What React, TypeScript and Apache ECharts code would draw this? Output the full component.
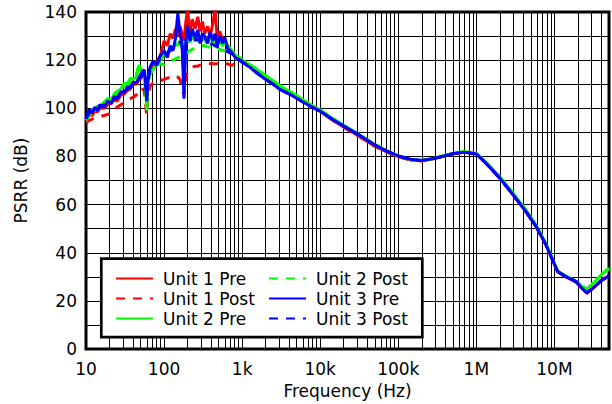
import { useEffect, useRef } from 'react';
import * as echarts from 'echarts';

// Frequencies (Hz)
const lowFreq = [10, 11, 12, 13, 14, 15, 17, 19, 21, 23, 25, 28, 31, 34, 37, 40, 44, 48, 52, 56, 59, 60, 62, 66, 72, 80, 90, 100, 110, 120, 130, 140, 150, 160, 170, 180, 190, 200, 215, 230, 250, 270, 290, 310, 330, 360, 390, 420, 450, 480, 520, 560, 600, 650, 700, 760, 820, 900, 1000];
const highFreq = [1200, 1500, 2000, 2500, 3000, 4000, 5000, 6000, 8000, 1e4, 1.5e4, 2e4, 3e4, 5e4, 7e4, 1e5, 1.5e5, 2e5, 3e5, 5e5, 7e5, 1e6, 1.3e6, 2e6, 3e6, 4.3e6, 5.8e6, 7.8e6, 9.4e6, 1.1e7, 1.4e7, 1.9e7, 2.25e7, 2.6e7, 3.3e7, 4e7, 5e7];

// PSRR (dB), low-frequency part
const unit1PreLow = [95, 97.5, 97, 99, 98.5, 100, 100, 101.5, 102, 103.5, 103, 105.5, 106, 107.5, 108, 110, 110, 112, 113, 114, 110, 106, 112, 116, 118, 119, 122, 128, 126, 131, 129, 133, 130, 134, 131, 128, 136, 141, 131, 137, 133, 138, 132, 136, 131, 134, 130, 135, 141, 129, 132, 128, 128, 126, 124, 123, 121.5, 120.5, 119.5];
const unit1PostLow = [94, 95, 95.5, 96, 96.5, 96.5, 97, 97.5, 98, 99.5, 100.5, 101.5, 102.5, 103.5, 104, 104.5, 105.5, 107, 108.5, 107, 99, 97.5, 104, 109, 110.5, 111, 111.5, 112, 112.5, 113, 113, 113.5, 113, 112, 108, 105.5, 113, 115, 116, 117, 117.5, 117.5, 118, 118.5, 118.5, 118.5, 118.5, 118.5, 118.5, 118.5, 118.5, 118.5, 118.5, 118.5, 118, 118, 118.5, 119, 119];
const unit2PreLow = [95.5, 98, 99.5, 99, 101, 100.5, 102.5, 104, 103.5, 106, 107, 108, 110.5, 110, 112.5, 112, 113, 118, 115, 113, 104, 99, 110, 114, 116, 118, 120, 122.5, 123, 125.5, 124, 127, 126, 128, 125, 122, 127, 129, 127.5, 130, 128, 129, 127, 130, 128.5, 127, 129.5, 128, 126.5, 128, 127, 126, 127, 126, 125, 123.5, 122, 121.5, 120];
const unit2PostLow = [95, 97, 98.5, 99.5, 100, 101, 102, 103, 104, 105, 106, 107.5, 108.5, 110, 111, 113, 114, 118.5, 115, 115, 106, 101, 111, 116, 117.5, 118, 118.5, 118, 119, 119.5, 120, 120.5, 121, 121.5, 122, 122, 122.5, 123, 124, 124.5, 125, 125.5, 126, 126, 126, 125.5, 125.5, 125, 125, 124.5, 124.5, 124, 124, 123.5, 123, 122.5, 121.5, 121, 120];
const unit3PreLow = [96, 99.5, 98, 100.5, 99, 101.5, 100.5, 103, 102, 105, 104, 107, 106.5, 109, 108.5, 111, 110.5, 113, 115, 116, 108, 103, 112, 117, 119.5, 118, 122, 124, 121, 126, 124, 129, 139.5, 131, 127, 104, 128, 134, 128, 133, 129, 132.5, 127, 131, 130, 127, 132, 128, 131, 126, 130, 127, 129.5, 125, 124, 122.5, 121, 120.5, 119];
const unit3PostLow = [95.5, 98, 98.5, 99.5, 100, 100.5, 101.5, 102, 102.5, 104, 104.5, 106, 107, 108, 109, 110, 111, 112, 113.5, 114, 107, 104, 111, 116, 118, 118, 121, 122, 123, 124, 124.5, 126, 127, 127.5, 126, 112, 126, 128, 128, 128.5, 128.5, 128.5, 128, 128, 127.5, 127, 127, 126.5, 126, 125.5, 125, 124.5, 124, 123.5, 123, 122.5, 121.5, 120.5, 119.5];

// PSRR (dB), high-frequency part (Pre and Post coincide)
const unit1High = [118, 116, 112.8, 110.7, 108.8, 106.6, 104.6, 103, 100.6, 98.8, 94.7, 92.2, 88.8, 84.3, 82, 79.9, 78.4, 78.2, 79.3, 81.1, 81.8, 81.1, 77.5, 71, 63.8, 57.2, 51, 43.3, 37.2, 32.1, 30, 27.9, 25.3, 23.3, 26, 28.5, 30.5];
const unit2High = [118.5, 116.5, 113.5, 111.5, 109.5, 107.2, 105.2, 103.6, 101, 99.3, 95.4, 92.9, 89.5, 85, 82.4, 80.2, 78.6, 78.3, 79.4, 81.3, 82, 81.3, 78, 71.5, 64.5, 57.8, 51.6, 43.8, 37.6, 32.4, 30.3, 28.2, 26, 25, 28, 31, 33.5];
const unit3High = [117.5, 115, 112, 110, 108, 106, 104.2, 102.6, 100.4, 98.8, 95, 92.6, 89.3, 84.8, 82.3, 80.2, 78.7, 78.3, 79.3, 81.1, 81.8, 81, 77.5, 71, 63.8, 57.2, 51, 43.3, 37.3, 32.2, 30.1, 28, 25.3, 23.3, 26, 28.5, 30.5];

const seriesNames = ['Unit 1 Pre', 'Unit 1 Post', 'Unit 2 Pre', 'Unit 2 Post', 'Unit 3 Pre', 'Unit 3 Post'];
const seriesColors = ['#ff0000', '#ff0000', '#00ff00', '#00ff00', '#0000ff', '#0000ff'];
const xTickLabels = ['10', '100', '1k', '10k', '100k', '1M', '10M'];
const yTickValues = [0, 20, 40, 60, 80, 100, 120, 140];

const FONT = 'DejaVu Sans';

const freq = lowFreq.concat(highFreq);
const seriesValues = [
  unit1PreLow.concat(unit1High),
  unit1PostLow.concat(unit1High),
  unit2PreLow.concat(unit2High),
  unit2PostLow.concat(unit2High),
  unit3PreLow.concat(unit3High),
  unit3PostLow.concat(unit3High),
];

const gridX: number[] = [];
for (let d = 1; d <= 7; d++) {
  for (let m = 1; m <= 9; m++) {
    const v = m * Math.pow(10, d);
    if (v > 10 && v < 5e7) gridX.push(v);
  }
}

export default function App() {
  const ref = useRef<HTMLDivElement>(null);
  useEffect(() => {
    const chart = echarts.init(ref.current!, null, { renderer: 'svg' });
    const dataSeries = seriesNames.map((name, i) => ({
      name,
      type: 'line',
      data: freq.map((f, j) => [f, seriesValues[i][j]]),
      showSymbol: false,
      symbol: 'none',
      z: 10,
      lineStyle: { color: seriesColors[i], width: 3, type: i % 2 === 1 ? [9, 8] : 'solid' },
      itemStyle: { color: seriesColors[i] },
      emphasis: { disabled: true },
      animation: false,
    }));
    const legendCommon = {
      orient: 'vertical',
      top: 270,
      padding: 0,
      itemWidth: 37,
      itemHeight: 14,
      itemGap: 3,
      z: 30,
      selectedMode: false,
      itemStyle: { opacity: 0 },
      textStyle: { fontFamily: FONT, fontSize: 17, color: '#000', padding: [0, 0, 0, 5] },
    };
    chart.setOption({
      animation: false,
      grid: { left: 86, top: 12, right: -5.4, bottom: 54.7, show: true, borderColor: '#000', borderWidth: 3, containLabel: false },
      xAxis: {
        type: 'log',
        logBase: 10,
        min: 10,
        max: 5e7,
        name: 'Frequency (Hz)',
        nameLocation: 'middle',
        nameGap: 30,
        nameTextStyle: { fontFamily: FONT, fontSize: 17, color: '#000' },
        axisLine: { show: false },
        axisTick: { show: false },
        splitLine: { show: true, lineStyle: { color: '#000', width: 1 } },
        axisLabel: {
          fontFamily: FONT,
          fontSize: 17,
          color: '#000',
          margin: 11,
          formatter: (v: number) => {
            const l = Math.log10(v);
            const e = Math.round(l);
            if (Math.abs(l - e) > 0.01) return '';
            return xTickLabels[e - 1] ?? '';
          },
        },
      },
      yAxis: {
        type: 'value',
        min: 0,
        max: 140,
        interval: 10,
        name: 'PSRR (dB)',
        nameLocation: 'middle',
        nameGap: 57,
        nameTextStyle: { fontFamily: FONT, fontSize: 17, color: '#000' },
        axisLine: { show: false },
        axisTick: { show: false },
        splitLine: { show: true, lineStyle: { color: '#000', width: 1 } },
        axisLabel: {
          fontFamily: FONT,
          fontSize: 17,
          color: '#000',
          margin: 9,
          formatter: (v: number) => (yTickValues.indexOf(v) >= 0 ? String(v) : ''),
        },
      },
      legend: [
        { ...legendCommon, left: 115, data: seriesNames.slice(0, 3) },
        { ...legendCommon, left: 268, data: seriesNames.slice(3) },
      ],
      graphic: [
        {
          type: 'rect',
          z: 25,
          shape: { x: 101.3, y: 258.7, width: 321, height: 78.5 },
          style: { fill: '#fff', stroke: '#000', lineWidth: 2.7 },
          silent: true,
        },
      ],
      series: [
        {
          type: 'line',
          data: [[10, -100]],
          symbol: 'none',
          silent: true,
          lineStyle: { opacity: 0 },
          z: 1,
          markLine: {
            silent: true,
            symbol: ['none', 'none'],
            label: { show: false },
            lineStyle: { color: '#000', width: 1, type: 'solid' },
            emphasis: { disabled: true },
            animation: false,
            data: gridX.map((v) => ({ xAxis: v })),
          },
        },
        ...dataSeries,
      ],
    });
    return () => chart.dispose();
  }, []);
  return <div ref={ref} style={{ position: 'absolute', left: 0, top: 0, width: 612, height: 404 }} />;
}
